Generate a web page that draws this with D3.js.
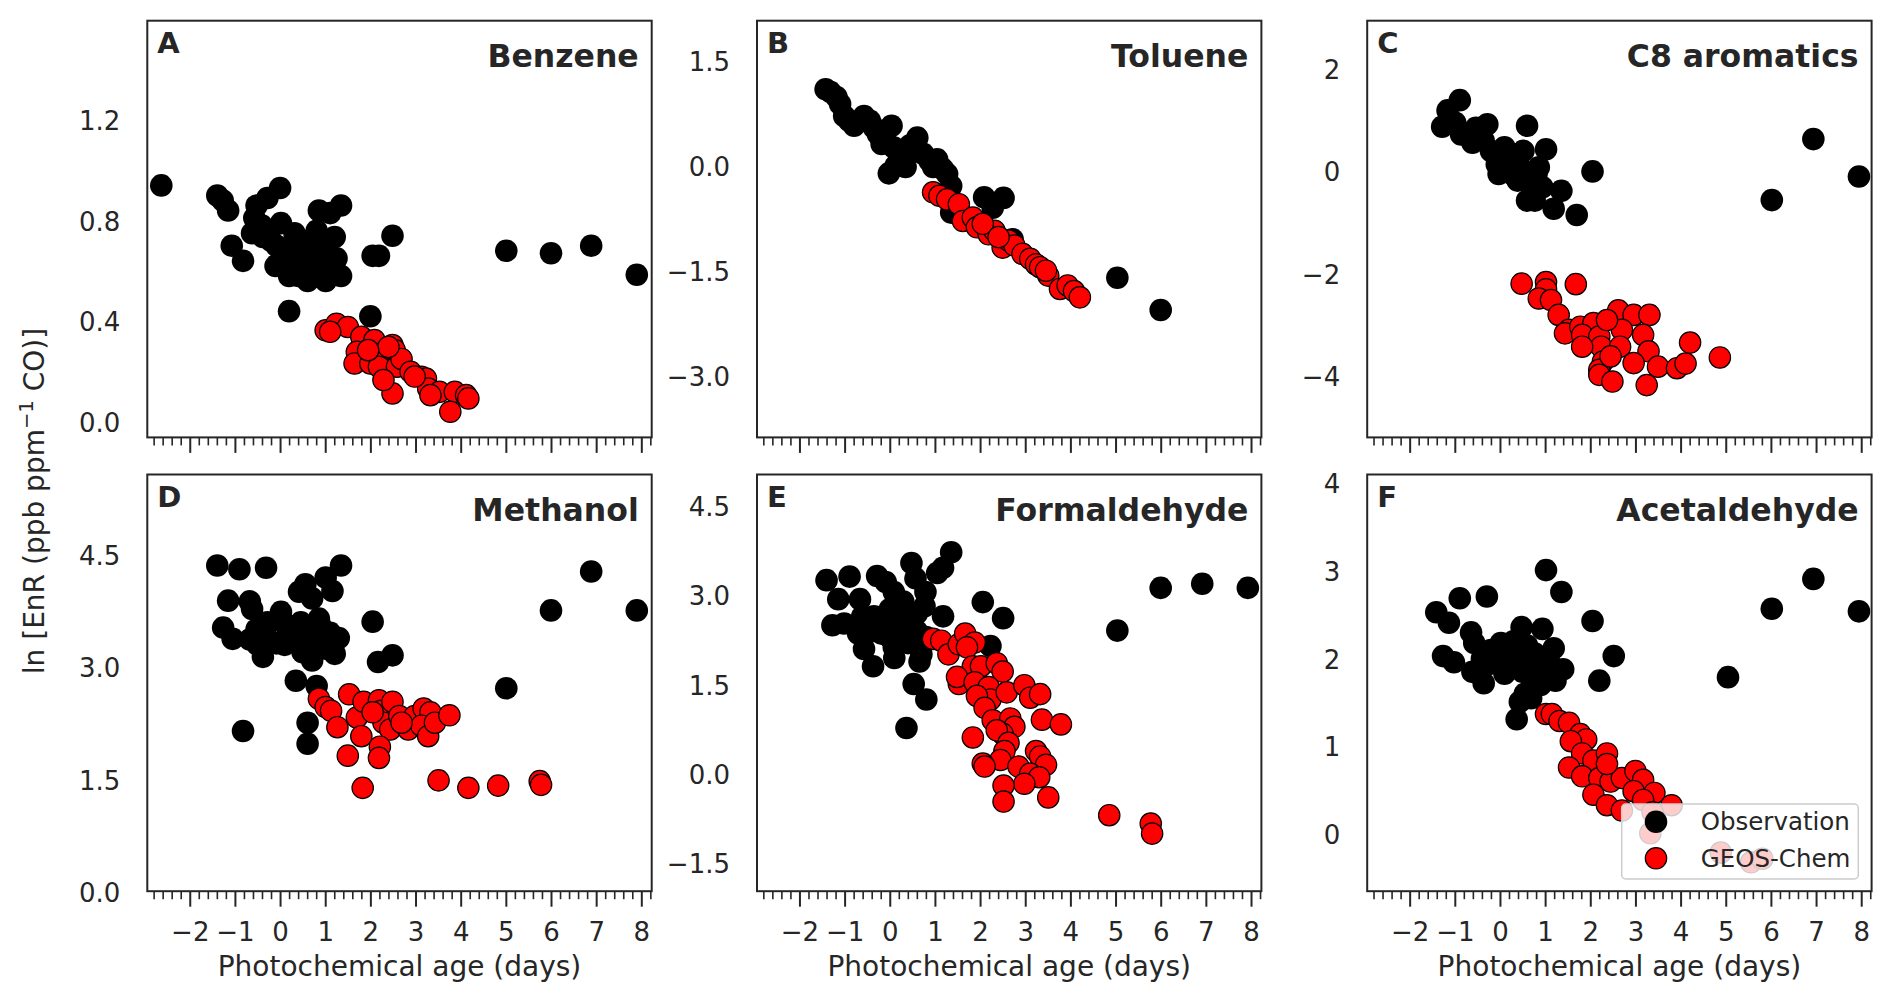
<!DOCTYPE html>
<html><head><meta charset="utf-8">
<script src="https://cdn.jsdelivr.net/npm/d3@7"></script>
<style>
body{margin:0;background:#fff}
svg{display:block}
text{font-family:"DejaVu Sans",sans-serif;fill:#262626}
</style>
</head><body>
<svg id="chart" width="1892" height="1002"></svg>
<script>
// ---------------- data ----------------
const xTickValues = [-2,-1,0,1,2,3,4,5,6,7,8];
const xDomain = [-2.94, 8.23];
const panelLetters = ["A","B","C","D","E","F"];
const panelTitles = ["Benzene","Toluene","C8 aromatics","Methanol","Formaldehyde","Acetaldehyde"];
const yDomains = [[-0.062,1.595],[-3.87,2.08],[-5.19,2.94],[0.01,5.575],[-1.98,5.04],[-0.65,4.10]];
const yTicks = [[0.0,0.4,0.8,1.2],[-3.0,-1.5,0.0,1.5],[-4,-2,0,2],[0.0,1.5,3.0,4.5],[-1.5,0.0,1.5,3.0,4.5],[0,1,2,3,4]];
const yTickDecimals = [1,1,0,1,1,0];
const seriesNames = ["Observation","GEOS-Chem"];

const benzeneObs = [[-2.63,0.94],[-1.39,0.90],[-1.27,0.88],[-1.15,0.84],[-1.07,0.70],[-0.82,0.64],[-0.52,0.86],[-0.28,0.89],[0,0.93],[-0.57,0.81],[-0.62,0.75],[-0.38,0.735],[0.02,0.79],[-0.08,0.70],[-0.03,0.63],[0.32,0.75],[0.41,0.58],[0.61,0.56],[0.71,0.67],[0.81,0.76],[0.86,0.84],[1.11,0.83],[1.35,0.86],[1.21,0.735],[1.25,0.65],[1.35,0.58],[1.01,0.56],[1.11,0.62],[0.51,0.67],[0.22,0.64],[0.91,0.64],[2.05,0.66],[2.19,0.66],[2.49,0.74],[0.20,0.44],[2.00,0.42],[5.01,0.68],[6.0,0.67],[6.89,0.70],[7.9,0.585],[-0.4,0.78],[-0.2,0.72],[0.1,0.68],[0.3,0.65],[0.5,0.72],[0.6,0.62],[0.9,0.7],[1.0,0.6],[0.2,0.58],[0.7,0.58],[1.2,0.62],[-0.1,0.62],[0.4,0.70],[0.8,0.66]];
const benzeneModel = [[1.01,0.364],[1.25,0.39],[1.50,0.377],[1.11,0.358],[1.80,0.338],[2.09,0.325],[1.70,0.278],[1.65,0.232],[2.00,0.232],[2.19,0.27],[2.49,0.305],[2.54,0.285],[2.19,0.219],[2.59,0.219],[2.69,0.25],[2.89,0.199],[3.13,0.179],[3.23,0.172],[3.28,0.132],[3.53,0.119],[3.87,0.119],[4.12,0.106],[4.17,0.093],[3.77,0.04],[2.49,0.113],[3.33,0.106],[2.40,0.298],[1.95,0.285],[2.29,0.166],[2.98,0.18]];

const tolueneObs = [[-1.42,1.10],[-1.31,1.06],[-1.18,0.99],[-1.10,0.89],[-1.01,0.72],[-0.79,0.58],[-0.57,0.72],[-0.44,0.65],[-0.26,0.46],[0.04,0.58],[-0.09,0.37],[0.09,0.27],[-0.02,-0.10],[0.22,0.08],[0.35,0.13],[0.61,0.41],[0.53,0.22],[0.74,0.18],[0.88,0.08],[1.05,0.10],[1.18,-0.04],[1.36,-0.28],[1.27,-0.11],[1.36,-0.66],[2.09,-0.44],[2.52,-0.45],[2.28,-0.59],[2.72,-1.04],[5.04,-1.59],[6.0,-2.05],[0.13,0.01],[-0.18,0.32],[0.35,-0.01],[0.96,-0.01],[-0.9,0.65],[-0.35,0.55],[0.45,0.3]];
const tolueneModel = [[0.96,-0.37],[1.10,-0.42],[1.27,-0.47],[1.53,-0.54],[1.62,-0.78],[1.84,-0.73],[1.93,-0.87],[2.19,-0.97],[2.32,-0.92],[2.50,-1.16],[2.63,-1.06],[2.76,-1.13],[2.94,-1.25],[3.11,-1.32],[3.24,-1.40],[3.33,-1.44],[3.51,-1.56],[3.46,-1.49],[3.77,-1.75],[3.94,-1.70],[4.08,-1.78],[4.21,-1.87],[2.06,-0.82],[2.41,-1.01]];

const c8Obs = [[-0.89,1.39],[-1.16,1.19],[-1.28,0.87],[-0.99,0.95],[-0.86,0.72],[-0.61,0.56],[-0.53,0.85],[-0.28,0.92],[-0.36,0.60],[0.10,0.47],[-0.07,0.14],[-0.03,-0.05],[0.27,0.34],[0.52,0.40],[0.60,0.89],[1.02,0.43],[0.39,-0.18],[0.60,-0.57],[0.77,-0.57],[0.81,-0.05],[0.86,0.08],[1.36,-0.38],[1.19,-0.73],[1.70,-0.85],[2.05,0.0],[6.02,-0.56],[6.94,0.63],[7.95,-0.10],[0.60,-0.05],[0.27,-0.05],[0.94,-0.31],[-0.2,0.4],[0.4,0.2],[0.7,-0.3]];
const c8Model = [[0.48,-2.19],[1.02,-2.16],[1.68,-2.20],[1.02,-2.30],[0.86,-2.48],[1.13,-2.51],[1.30,-2.80],[1.53,-3.09],[1.44,-3.16],[1.78,-3.03],[2.07,-2.96],[1.82,-3.19],[2.20,-3.22],[2.24,-3.42],[1.82,-3.42],[2.62,-2.71],[2.96,-2.80],[3.31,-2.80],[2.70,-3.09],[3.17,-3.19],[2.66,-3.42],[3.29,-3.51],[2.28,-3.71],[2.20,-3.87],[2.20,-3.97],[2.49,-4.10],[2.96,-3.74],[3.50,-3.81],[3.92,-3.84],[4.11,-3.75],[4.21,-3.34],[4.87,-3.63],[3.25,-4.17],[2.45,-3.61],[2.37,-2.90]];

const methanolObs = [[-1.39,4.36],[-0.90,4.31],[-0.31,4.33],[1.35,4.36],[1.01,4.20],[1.16,4.02],[0.56,4.11],[0.42,4.01],[0.71,3.92],[-1.15,3.89],[-0.67,3.88],[-0.62,3.78],[-1.26,3.53],[-1.05,3.38],[-0.52,3.51],[-0.28,3.60],[0.02,3.74],[0.07,3.60],[-0.08,3.32],[-0.38,3.14],[0.32,3.51],[0.61,3.37],[0.71,3.09],[0.86,3.65],[1.11,3.46],[1.30,3.39],[1.21,3.18],[0.46,3.60],[2.05,3.61],[2.17,3.07],[2.49,3.16],[0.35,2.82],[0.81,2.75],[-0.82,2.15],[0.61,2.26],[0.61,1.98],[5.01,2.72],[6.0,3.76],[6.89,4.28],[7.9,3.76],[-0.67,3.37],[0.17,3.42],[-0.3,3.4],[0.1,3.3],[0.4,3.35],[0.8,3.3],[1.0,3.25],[0.5,3.2],[0.2,3.55],[0.9,3.55],[-0.5,3.3]];
const methanolModel = [[0.86,2.58],[1.01,2.47],[1.13,2.42],[1.27,2.20],[1.53,2.64],[1.70,2.33],[1.85,2.54],[2.19,2.56],[2.24,2.42],[2.49,2.54],[2.29,2.26],[2.44,2.17],[2.64,2.35],[2.84,2.17],[2.98,2.35],[3.18,2.45],[3.33,2.40],[3.13,2.22],[3.28,2.08],[3.43,2.26],[3.75,2.36],[1.80,2.08],[2.21,1.94],[2.19,1.79],[1.50,1.82],[1.83,1.39],[3.51,1.49],[4.17,1.39],[4.83,1.42],[5.75,1.48],[5.78,1.43],[2.05,2.40],[2.69,2.26]];

const formaldehydeObs = [[-1.40,3.26],[-0.89,3.32],[-1.14,2.94],[-0.66,2.94],[-0.28,3.33],[-0.09,3.23],[0.09,3.06],[0.48,3.55],[0.57,3.29],[1.05,3.38],[1.18,3.47],[1.36,3.73],[0.79,3.06],[0.77,2.82],[1.18,2.65],[-1.27,2.50],[-1.01,2.53],[-0.61,2.65],[-0.35,2.65],[-0.57,2.10],[-0.37,1.81],[-0.18,2.36],[0.09,2.13],[0.18,2.48],[0.35,2.30],[0.66,1.89],[0.70,2.01],[0.53,1.51],[0.81,1.25],[0.37,0.77],[2.06,2.89],[2.51,2.62],[2.23,2.15],[5.04,2.41],[6.0,3.13],[6.92,3.20],[7.93,3.13],[0,2.77],[-0.70,2.36],[0.44,2.59],[0.2,2.6],[0.4,2.2],[-0.2,2.5],[0.0,2.3],[0.6,2.4],[0.3,2.9],[0.6,2.7],[-0.4,2.4],[0.8,2.3],[0.1,1.95]];
const formaldehydeModel = [[0.96,2.27],[1.14,2.24],[1.30,2.01],[1.53,2.18],[1.67,2.36],[1.88,2.21],[1.71,2.13],[1.84,1.81],[2.02,1.81],[2.37,1.86],[2.50,1.72],[1.53,1.51],[1.49,1.63],[1.88,1.54],[2.19,1.46],[2.23,1.25],[2.59,1.37],[2.98,1.49],[3.11,1.28],[3.33,1.34],[1.93,1.31],[2.10,1.11],[2.28,0.90],[2.67,0.93],[2.76,0.79],[3.37,0.91],[3.79,0.83],[1.84,0.61],[2.50,0.67],[2.37,0.73],[2.63,0.52],[2.54,0.38],[2.45,0.23],[2.06,0.17],[2.10,0.12],[2.85,0.12],[3.24,0.38],[3.33,0.29],[3.46,0.15],[3.11,0.0],[3.31,-0.06],[2.98,-0.17],[2.52,-0.20],[2.52,-0.47],[3.51,-0.40],[4.86,-0.70],[5.78,-0.84],[5.81,-1.01]];

const acetaldehydeObs = [[-1.41,2.53],[-1.13,2.41],[-0.89,2.69],[-0.29,2.71],[-1.26,2.03],[-1.02,1.96],[-0.64,2.30],[-0.57,2.18],[-0.61,1.85],[-0.36,1.72],[0.02,2.18],[-0.11,2.06],[0.10,1.83],[0.48,2.36],[0.94,2.34],[1.02,3.01],[1.36,2.76],[1.19,2.12],[1.40,1.88],[1.23,1.75],[0.60,1.90],[0.35,2.06],[0.77,2.06],[0.44,1.51],[0.37,1.31],[0.69,1.55],[2.05,2.43],[2.52,2.03],[2.20,1.75],[5.05,1.79],[6.02,2.57],[6.94,2.91],[7.95,2.54],[-0.24,1.94],[0.94,1.83],[-0.2,2.1],[0.2,1.95],[0.5,1.85],[0.8,1.95],[1.1,1.95],[0.3,2.2],[0.6,2.15],[-0.4,2.0],[0.9,1.7],[0.7,1.65],[0.55,1.6]];
const acetaldehydeModel = [[1.02,1.37],[1.15,1.37],[1.32,1.29],[1.53,1.27],[1.78,1.14],[1.91,1.08],[1.57,1.06],[1.82,0.92],[2.07,0.84],[2.37,0.92],[1.53,0.76],[1.82,0.66],[2.20,0.64],[2.45,0.60],[2.70,0.64],[3.00,0.72],[3.17,0.62],[2.96,0.49],[2.07,0.45],[2.37,0.33],[3.42,0.47],[3.17,0.39],[2.70,0.27],[3.80,0.33],[3.38,0.25],[3.33,0.01],[4.89,-0.21],[5.56,-0.32],[5.81,-0.28],[2.37,0.80]];

const obsSets = [benzeneObs, tolueneObs, c8Obs, methanolObs, formaldehydeObs, acetaldehydeObs];
const modelSets = [benzeneModel, tolueneModel, c8Model, methanolModel, formaldehydeModel, acetaldehydeModel];

// ---------------- layout ----------------
const colLeft = [147.3, 757.0, 1367.2];
const rowTop = [20.7, 474.5];
const PW = 504.4, PH = 416.7;
const INK = "#262626";
const R = 11.3;

const svg = d3.select("#chart");
const defs = svg.append("defs");

panelTitles.forEach((title, i) => {
  const col = i % 3, row = Math.floor(i / 3);
  const g = svg.append("g").attr("transform", `translate(${colLeft[col]},${rowTop[row]})`);
  const x = d3.scaleLinear().domain(xDomain).range([0, PW]);
  const y = d3.scaleLinear().domain(yDomains[i]).range([PH, 0]);

  defs.append("clipPath").attr("id", "clip" + i)
    .append("rect").attr("width", PW).attr("height", PH);

  const pts = g.append("g").attr("clip-path", `url(#clip${i})`);
  pts.selectAll("circle.obs").data(obsSets[i]).join("circle")
    .attr("class", "obs")
    .attr("cx", d => x(d[0])).attr("cy", d => y(d[1])).attr("r", R)
    .attr("fill", "#000");
  pts.selectAll("circle.mod").data(modelSets[i]).join("circle")
    .attr("class", "mod")
    .attr("cx", d => x(d[0])).attr("cy", d => y(d[1])).attr("r", R - 0.6)
    .attr("fill", "#ff0000").attr("stroke", "#000").attr("stroke-width", 1.2);

  // x axis ticks (major + minor)
  const minor = d3.range(-2.8, 8.21, 0.2).filter(v => Math.abs(v - Math.round(v)) > 1e-6);
  const xMinor = d3.axisBottom(x).tickValues(minor).tickSize(8).tickFormat("");
  const xMajor = d3.axisBottom(x).tickValues(xTickValues).tickSize(15.5)
    .tickFormat(row === 1 ? (d => d < 0 ? "\u2212" + Math.abs(d) : String(d)) : "");
  const gm = g.append("g").attr("transform", `translate(0,${PH})`).call(xMinor);
  gm.select(".domain").remove();
  gm.selectAll("line").attr("stroke", INK).attr("stroke-width", 1.6);
  const gM = g.append("g").attr("transform", `translate(0,${PH})`).call(xMajor);
  gM.select(".domain").remove();
  gM.selectAll("line").attr("stroke", INK).attr("stroke-width", 2);
  gM.selectAll("text").attr("font-size", 26).attr("fill", INK)
    .attr("font-family", '"DejaVu Sans",sans-serif').attr("y", 0).attr("dy", 0)
    .attr("transform", "translate(0,50.2)");

  // y axis labels (no tick marks)
  const dec = yTickDecimals[i];
  const fmt = v => { const s = Math.abs(v).toFixed(dec); return v < -1e-9 ? "\u2212" + s : s; };
  const yAx = d3.axisLeft(y).tickValues(yTicks[i]).tickSize(0).tickPadding(27).tickFormat(fmt);
  const gy = g.append("g").call(yAx);
  gy.select(".domain").remove();
  gy.selectAll("text").attr("font-size", 26).attr("fill", INK)
    .attr("font-family", '"DejaVu Sans",sans-serif').attr("dy", "0.36em");

  // frame
  g.append("rect").attr("width", PW).attr("height", PH)
    .attr("fill", "none").attr("stroke", INK).attr("stroke-width", 2);

  g.append("text").attr("x", 10).attr("y", 32).attr("font-size", 29)
    .attr("font-weight", "bold").text(panelLetters[i]);
  g.append("text").attr("x", PW - 13).attr("y", 46).attr("font-size", 31.5)
    .attr("font-weight", "bold").attr("text-anchor", "end").text(title);

  if (row === 1) {
    g.append("text").attr("x", PW / 2).attr("y", PH + 84.5).attr("font-size", 28)
      .attr("text-anchor", "middle").text("Photochemical age (days)");
  }

  if (i === 5) {
    const lg = g.append("g").attr("transform", `translate(${1621.7 - colLeft[2]},${804 - rowTop[1]})`);
    lg.append("rect").attr("width", 236.6).attr("height", 75).attr("rx", 4)
      .attr("fill", "#fff").attr("fill-opacity", 0.8)
      .attr("stroke", "#cccccc").attr("stroke-width", 1.5);
    const items = [{name: seriesNames[0], fill: "#000"}, {name: seriesNames[1], fill: "#ff0000"}];
    items.forEach((it, k) => {
      const cy = 17.7 + k * 36.6;
      lg.append("circle").attr("cx", 34.3).attr("cy", cy).attr("r", k ? R - 0.6 : R)
        .attr("fill", it.fill).attr("stroke", k ? "#000" : "none").attr("stroke-width", 1.2);
      lg.append("text").attr("x", 79).attr("y", cy + 8.5).attr("font-size", 24.5).text(it.name);
    });
  }
});

// shared y label
svg.append("text")
  .attr("transform", "translate(44,501) rotate(-90)")
  .attr("text-anchor", "middle").attr("font-size", 28)
  .call(t => {
    t.append("tspan").text("ln [EnR (ppb ppm");
    t.append("tspan").attr("dy", -11).attr("font-size", 19.6).text("\u22121");
    t.append("tspan").attr("dy", 11).text(" CO)]");
  });
</script>
</body></html>
